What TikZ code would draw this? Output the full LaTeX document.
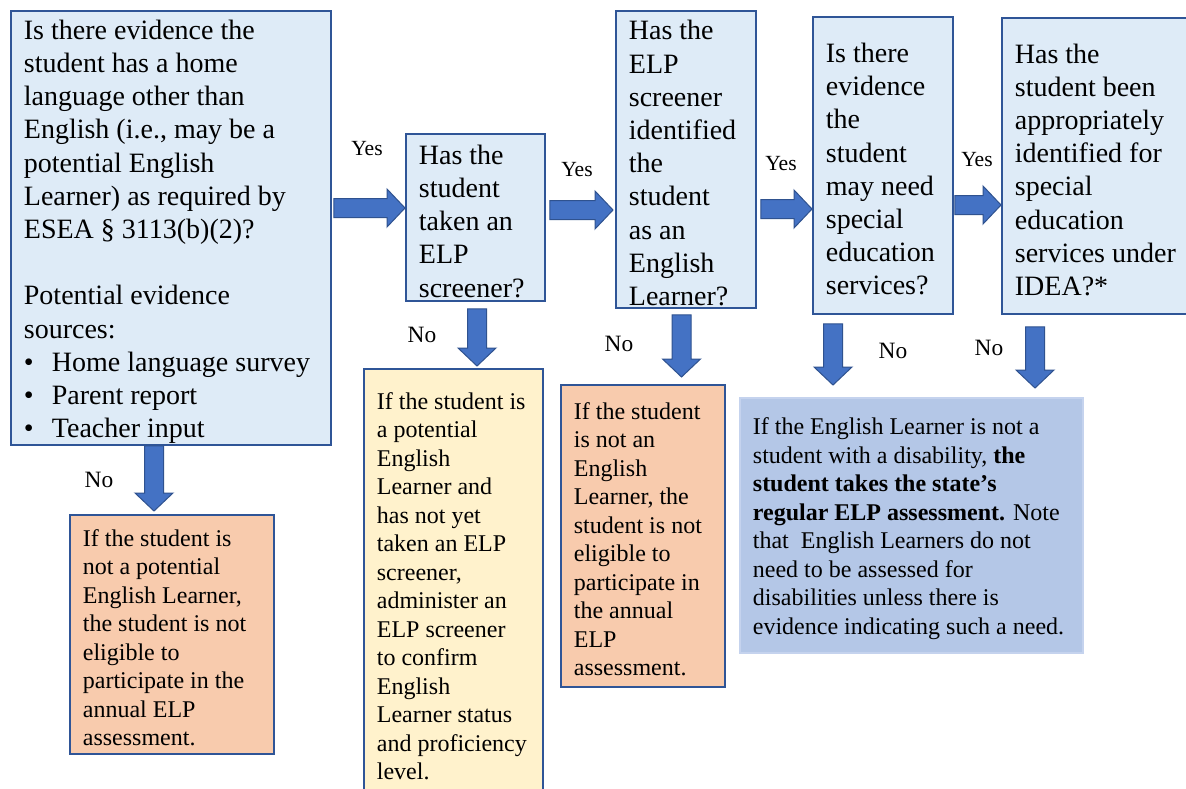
\documentclass[tikz,border=0pt]{standalone}
\usepackage{fontspec}
\setmainfont{Liberation Serif}
\usetikzlibrary{calc}

\definecolor{qfill}{HTML}{DEEBF7}
\definecolor{boxline}{HTML}{2F5597}
\definecolor{arrowfill}{HTML}{4472C4}
\definecolor{arrowline}{HTML}{2F528F}
\definecolor{nofill}{HTML}{F8CBAD}
\definecolor{screenfill}{HTML}{FFF2CC}
\definecolor{elpfill}{HTML}{B4C7E7}
\definecolor{elpline}{HTML}{C5D3EE}

\tikzset{
  box/.style={anchor=north west, align=left, inner xsep=6.5pt, inner ysep=0pt,
    line width=0.9pt,
    execute at begin node={\spaceskip=0pt\xspaceskip=0pt\rule{0pt}{0.97em}}},
  question/.style={box, draw=boxline, fill=qfill, font=\fontsize{14}{16.6}\selectfont},
  outcome/.style={box, draw=boxline, font=\fontsize{12}{14.25}\selectfont},
  yeslabel/.style={inner sep=0pt, font=\fontsize{10.8}{13}\selectfont},
  nolabel/.style={inner sep=0pt, font=\fontsize{11.7}{14}\selectfont},
  blockarrow/.style={fill=arrowfill, draw=arrowline, line width=0.5pt,
    to path={($(\tikztostart)!4.75pt!90:(\tikztotarget)$)
      -- ($(\tikztotarget)!9pt!(\tikztostart)!4.75pt!90:(\tikztotarget)$)
      -- ($(\tikztotarget)!9pt!(\tikztostart)!9.5pt!90:(\tikztotarget)$)
      -- (\tikztotarget)
      -- ($(\tikztotarget)!9pt!(\tikztostart)!9.5pt!-90:(\tikztotarget)$)
      -- ($(\tikztotarget)!9pt!(\tikztostart)!4.75pt!-90:(\tikztotarget)$)
      -- ($(\tikztostart)!4.75pt!-90:(\tikztotarget)$) -- cycle}}
}

\newcommand{\bitem}[1]{\makebox[14pt][l]{\textbullet}#1}

\begin{document}
\begin{tikzpicture}[x=0.5pt, y=-0.5pt]
  \useasboundingbox (0,0) rectangle (1186,788);
  \clip (0,0) rectangle (1186,788);
  \fill[white] (0,0) rectangle (1186,788);

  % Question boxes
  \node[question, text width=147pt, minimum height=217pt] (q1) at (10,10)
    {Is there evidence the\\ student has a home\\ language other than\\
     English (i.e., may be a\\ potential English\\ Learner) as required by\\
     ESEA \S\ 3113(b)(2)?\\[16.6pt]
     Potential evidence\\ sources:\\ \bitem{Home language survey}\\
     \bitem{Parent report}\\ \bitem{Teacher input}};
  \node[question, text width=56.5pt, minimum height=83.5pt] (q2) at (405,133)
    {Has the\\ student\\ taken an\\ ELP\\ screener?};
  \node[question, text width=57pt, minimum height=148.5pt] (q3) at (615,10)
    {Has the\\ ELP\\ screener\\ identified\\ the\\ student\\ as an\\ English\\ Learner?};
  \node[question, text width=57pt, minimum height=148.5pt] (q4) at (812,16)
    {Is there\\ evidence\\ the\\ student\\ may need\\ special\\ education\\ services?};
  \node[question, text width=84.5pt, minimum height=148pt] (q5) at (1001,17)
    {Has the\\ student been\\ appropriately\\ identified for\\ special\\ education\\
     services under\\ IDEA?*};

  % Outcome boxes
  \node[outcome, fill=nofill, text width=89pt, minimum height=119.5pt] (r1) at (69,514)
    {If the student is\\ not a potential\\ English Learner,\\ the student is not\\
     eligible to\\ participate in the\\ annual ELP\\ assessment.};
  \node[outcome, fill=screenfill, text width=76.5pt, minimum height=214pt] (r2) at (363,368)
    {If the student is\\ a potential\\ English\\ Learner and\\ has not yet\\
     taken an ELP\\ screener,\\ administer an\\ ELP screener\\ to confirm\\
     English\\ Learner status\\ and proficiency\\ level.};
  \node[outcome, fill=nofill, text width=69pt, minimum height=151pt] (r3) at (560,384)
    {If the student\\ is not an\\ English\\ Learner, the\\ student is not\\
     eligible to\\ participate in\\ the annual\\ ELP\\ assessment.};
  \node[outcome, draw=elpline, fill=elpfill, text width=158.5pt, minimum height=127.5pt] (r4) at (739,397)
    {If the English Learner is not a\\ student with a disability, \textbf{the}\\
     \textbf{student takes the state's}\\ \textbf{regular ELP assessment.} Note\\
     that \ English Learners do not\\ need to be assessed for\\
     disabilities unless there is\\ evidence indicating such a need.};

  % Yes arrows
  \draw[blockarrow] ($(q1.east |- 0,208)+(2,0)$) to (q2.west |- 0,208);
  \draw[blockarrow] ($(q2.east |- 0,210)+(4,0)$) to ($(q3.west |- 0,210)+(-2,0)$);
  \draw[blockarrow] ($(q3.east |- 0,209)+(4,0)$) to (q4.west |- 0,209);
  \draw[blockarrow] ($(q4.east |- 0,205)+(1,0)$) to (q5.west |- 0,205);
  \node[yeslabel] (yes1) at (367,149) {Yes};
  \node[yeslabel] (yes2) at (577,170) {Yes};
  \node[yeslabel] (yes3) at (781,164) {Yes};
  \node[yeslabel] (yes4) at (977,160) {Yes};

  % No arrows
  \draw[blockarrow] (q1.south -| 154,0) to ($(r1.north -| 154,0)+(0,-3)$);
  \draw[blockarrow] ($(q2.south -| 477,0)+(0,7)$) to ($(r2.north -| 477,0)+(0,-2)$);
  \draw[blockarrow] ($(q3.south -| 681.5,0)+(0,6)$) to ($(r3.north -| 681.5,0)+(0,-7)$);
  \draw[blockarrow] ($(q4.south -| 833,0)+(0,9)$) to ($(r4.north -| 833,0)+(0,-12)$);
  \draw[blockarrow] ($(q5.south -| 1035,0)+(0,12)$) to ($(r4.north -| 1035,0)+(0,-9)$);
  \node[nolabel] (no1) at (99,480) {No};
  \node[nolabel] (no2) at (422,335) {No};
  \node[nolabel] (no3) at (619,344) {No};
  \node[nolabel] (no4) at (893,351) {No};
  \node[nolabel] (no5) at (989,348) {No};
\end{tikzpicture}
\end{document}
